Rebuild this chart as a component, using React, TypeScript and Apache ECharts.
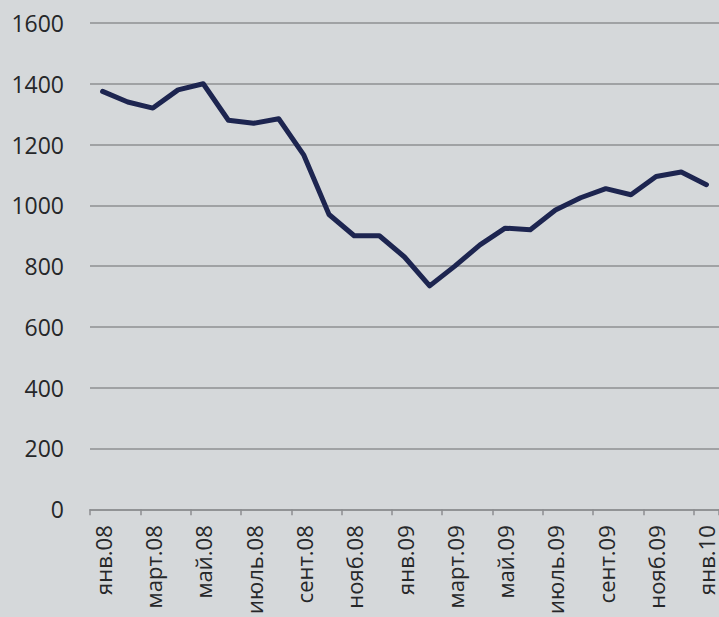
import React, { useEffect, useRef } from "react";
import * as echarts from "echarts";

const categories = [
  "янв.08", "февр.08", "март.08", "апр.08", "май.08", "июнь.08", "июль.08", "авг.08",
  "сент.08", "окт.08", "нояб.08", "дек.08", "янв.09", "февр.09", "март.09", "апр.09",
  "май.09", "июнь.09", "июль.09", "авг.09", "сент.09", "окт.09", "нояб.09", "дек.09", "янв.10",
];
const values = [
  1375, 1340, 1320, 1380, 1400, 1280, 1270, 1285, 1165, 970, 900, 900, 830,
  735, 800, 870, 925, 920, 985, 1025, 1055, 1035, 1095, 1110, 1068,
];
const yMin = 0;
const yMax = 1600;
const yStep = 200;

export default function App() {
  const ref = useRef<HTMLDivElement>(null);
  useEffect(() => {
    if (!ref.current) return;
    const chart = echarts.init(ref.current, null, { renderer: "svg" });
    chart.setOption({
      animation: false,
      backgroundColor: "#d5d8da",
      grid: { left: 90, right: 0, top: 23, bottom: 105, containLabel: false },
      xAxis: {
        type: "category",
        data: categories,
        boundaryGap: true,
        axisLine: { show: true, lineStyle: { color: "#8c8e90", width: 1.5 } },
        axisTick: { show: true, interval: 1, length: 6, lineStyle: { color: "#8c8e90", width: 1.5 } },
        axisLabel: {
          interval: 1,
          rotate: 90,
          margin: 16,
          color: "#262729",
          fontSize: 22,
          fontFamily: "Open Sans",
        },
        splitLine: { show: false },
      },
      yAxis: {
        type: "value",
        min: yMin,
        max: yMax,
        interval: yStep,
        axisLine: { show: false },
        axisTick: { show: false },
        axisLabel: {
          margin: 26,
          color: "#262729",
          fontSize: 23,
          fontFamily: "Open Sans",
          formatter: (v: number) => String(v),
        },
        splitLine: { show: true, lineStyle: { color: "#8e9092", width: 1.5 } },
      },
      series: [
        {
          type: "line",
          data: values,
          symbol: "none",
          lineStyle: { color: "#1d2550", width: 5, join: "round", cap: "round" },
        },
      ],
    });
    return () => chart.dispose();
  }, []);
  return (
    <div
      ref={ref}
      style={{ position: "fixed", left: 0, top: 0, width: 719, height: 617 }}
    />
  );
}
